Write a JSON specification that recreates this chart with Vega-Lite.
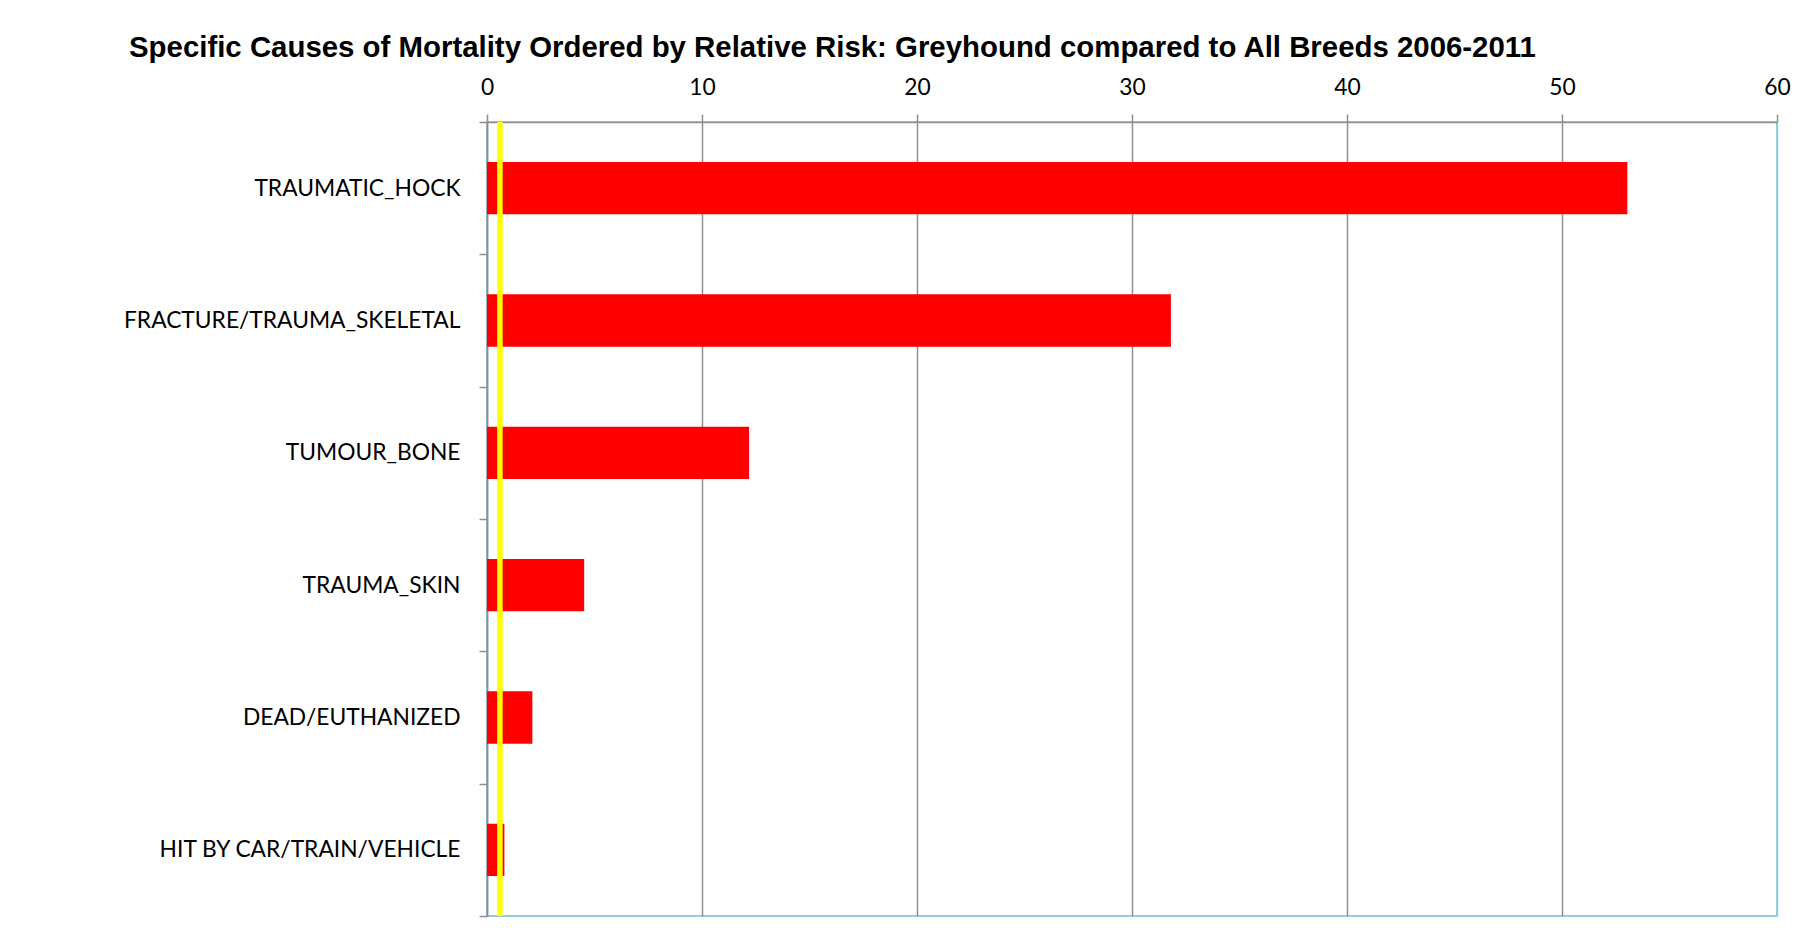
{
  "$schema": "https://vega.github.io/schema/vega-lite/v6.json",
  "width": 1290,
  "height": 794,
  "autosize": {"type": "none"},
  "padding": {"left": 487, "top": 122, "right": 27, "bottom": 21},
  "background": "white",
  "title": {
    "text": "Specific Causes of Mortality Ordered by Relative Risk: Greyhound compared to All Breeds 2006-2011",
    "font": "Liberation Sans",
    "fontSize": 29.4,
    "fontWeight": "bold",
    "color": "black",
    "anchor": "start",
    "frame": "group",
    "dx": -358,
    "dy": 10,
    "baseline": "alphabetic",
    "offset": 0
  },
  "datasets": {
    "causes": [
      {"cause": "TRAUMATIC_HOCK", "risk": 53.04},
      {"cause": "FRACTURE/TRAUMA_SKELETAL", "risk": 31.81},
      {"cause": "TUMOUR_BONE", "risk": 12.19},
      {"cause": "TRAUMA_SKIN", "risk": 4.52},
      {"cause": "DEAD/EUTHANIZED", "risk": 2.11},
      {"cause": "HIT BY CAR/TRAIN/VEHICLE", "risk": 0.81}
    ],
    "ref": [{"risk": 0.6}]
  },
  "layer": [
    {
      "data": {"name": "causes"},
      "mark": {"type": "bar", "color": "#ff0000", "height": {"band": 0.396}},
      "encoding": {
        "y": {
          "field": "cause",
          "type": "nominal",
          "sort": null,
          "scale": {"paddingInner": 0, "paddingOuter": 0},
          "axis": {
            "title": null,
            "tickBand": "extent",
            "grid": false,
            "domainColor": "#8f8f8f",
            "domainWidth": 1.5,
            "tickColor": "#8f8f8f",
            "tickWidth": 1.5,
            "tickSize": 8,
            "labelFont": "Lato",
            "labelFontSize": 22.8,
            "labelColor": "black",
            "labelPadding": 19,
            "labelLimit": 500
          }
        },
        "x": {
          "field": "risk",
          "type": "quantitative",
          "scale": {"domain": [0, 60], "nice": false},
          "axis": {
            "orient": "top",
            "values": [0, 10, 20, 30, 40, 50, 60],
            "title": null,
            "grid": true,
            "gridColor": {"condition": {"test": "datum.value === 60", "value": "#93cddd"}, "value": "#8f8f8f"},
            "gridWidth": 1.5,
            "domainColor": "#8f8f8f",
            "domainWidth": 1.5,
            "tickColor": "#8f8f8f",
            "tickWidth": 1.5,
            "tickSize": 8,
            "labelFont": "Lato",
            "labelFontSize": 22.8,
            "labelColor": "black",
            "labelPadding": 20,
            "labelBaseline": "alphabetic",
            "labelFlush": false,
            "labelOverlap": false
          }
        }
      }
    },
    {
      "data": {"name": "ref"},
      "mark": {"type": "rule", "color": "#ffff00", "strokeWidth": 5.5},
      "encoding": {
        "x": {"field": "risk", "type": "quantitative"}
      }
    }
  ],
  "config": {
    "view": {"stroke": "#93cddd", "strokeWidth": 2}
  }
}
